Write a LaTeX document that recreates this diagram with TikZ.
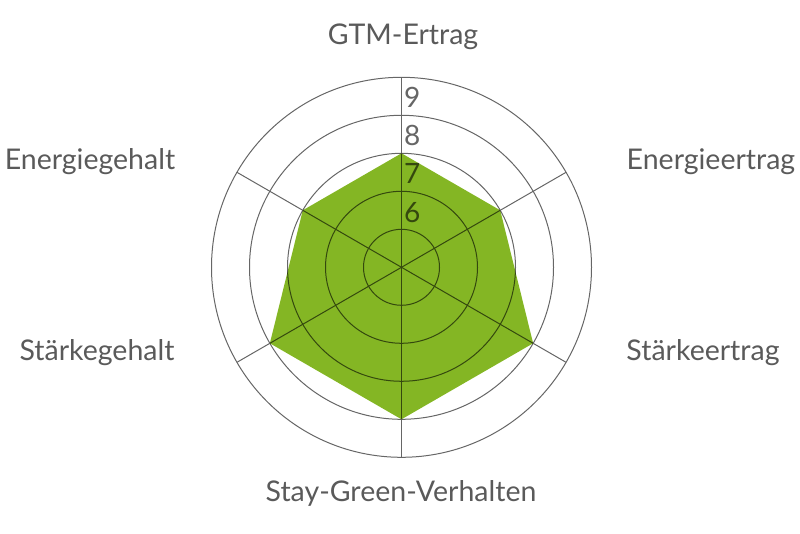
\documentclass[tikz,border=0pt]{standalone}
\usepackage{fontspec}
\setmainfont{Lato}
\usetikzlibrary{calc}
\definecolor{lbl}{HTML}{5A5A5A}
\definecolor{grid}{HTML}{666666}
\definecolor{fillg}{HTML}{84B624}
\begin{document}
\begin{tikzpicture}[x=1pt,y=1pt,
  gridline/.style={draw=grid,line width=1pt},
  axislabel/.style={text=lbl,font=\fontsize{28.5}{32}\selectfont,inner sep=0pt},
  scalelabel/.style={text=grid,font=\fontsize{28}{30}\selectfont,inner sep=0pt,anchor=west}]
\useasboundingbox (0,0) rectangle (800,533);
\coordinate (c) at (401.5,265.7);
\foreach \r in {1,...,5} {\draw[gridline] (c) circle ({38*\r});}
\foreach \a in {90,30,150} {\draw[gridline] ($(c)+(\a:190)$) -- ($(c)+(\a+180:190)$);}
\node[scalelabel] (s6) at (404,320) {6};
\node[scalelabel] (s7) at (404,360) {7};
\node[scalelabel] (s8) at (404,398) {8};
\node[scalelabel] (s9) at (404,436) {9};
\begin{scope}[blend mode=multiply]
\fill[fillg] ($(c)+(90:114)$) -- ($(c)+(30:114)$) -- ($(c)+(-30:152)$) -- ($(c)+(-90:152)$) -- ($(c)+(210:152)$) -- ($(c)+(150:114)$) -- cycle;
\end{scope}
\node[axislabel] (l1) at (403,496) {GTM-Ertrag};
\node[axislabel] (l2) at (711,371) {Energieertrag};
\node[axislabel] (l3) at (703,180) {Stärkeertrag};
\node[axislabel] (l4) at (401,40) {Stay-Green-Verhalten};
\node[axislabel] (l5) at (97,180) {Stärkegehalt};
\node[axislabel] (l6) at (90,371) {Energiegehalt};
\end{tikzpicture}
\end{document}
